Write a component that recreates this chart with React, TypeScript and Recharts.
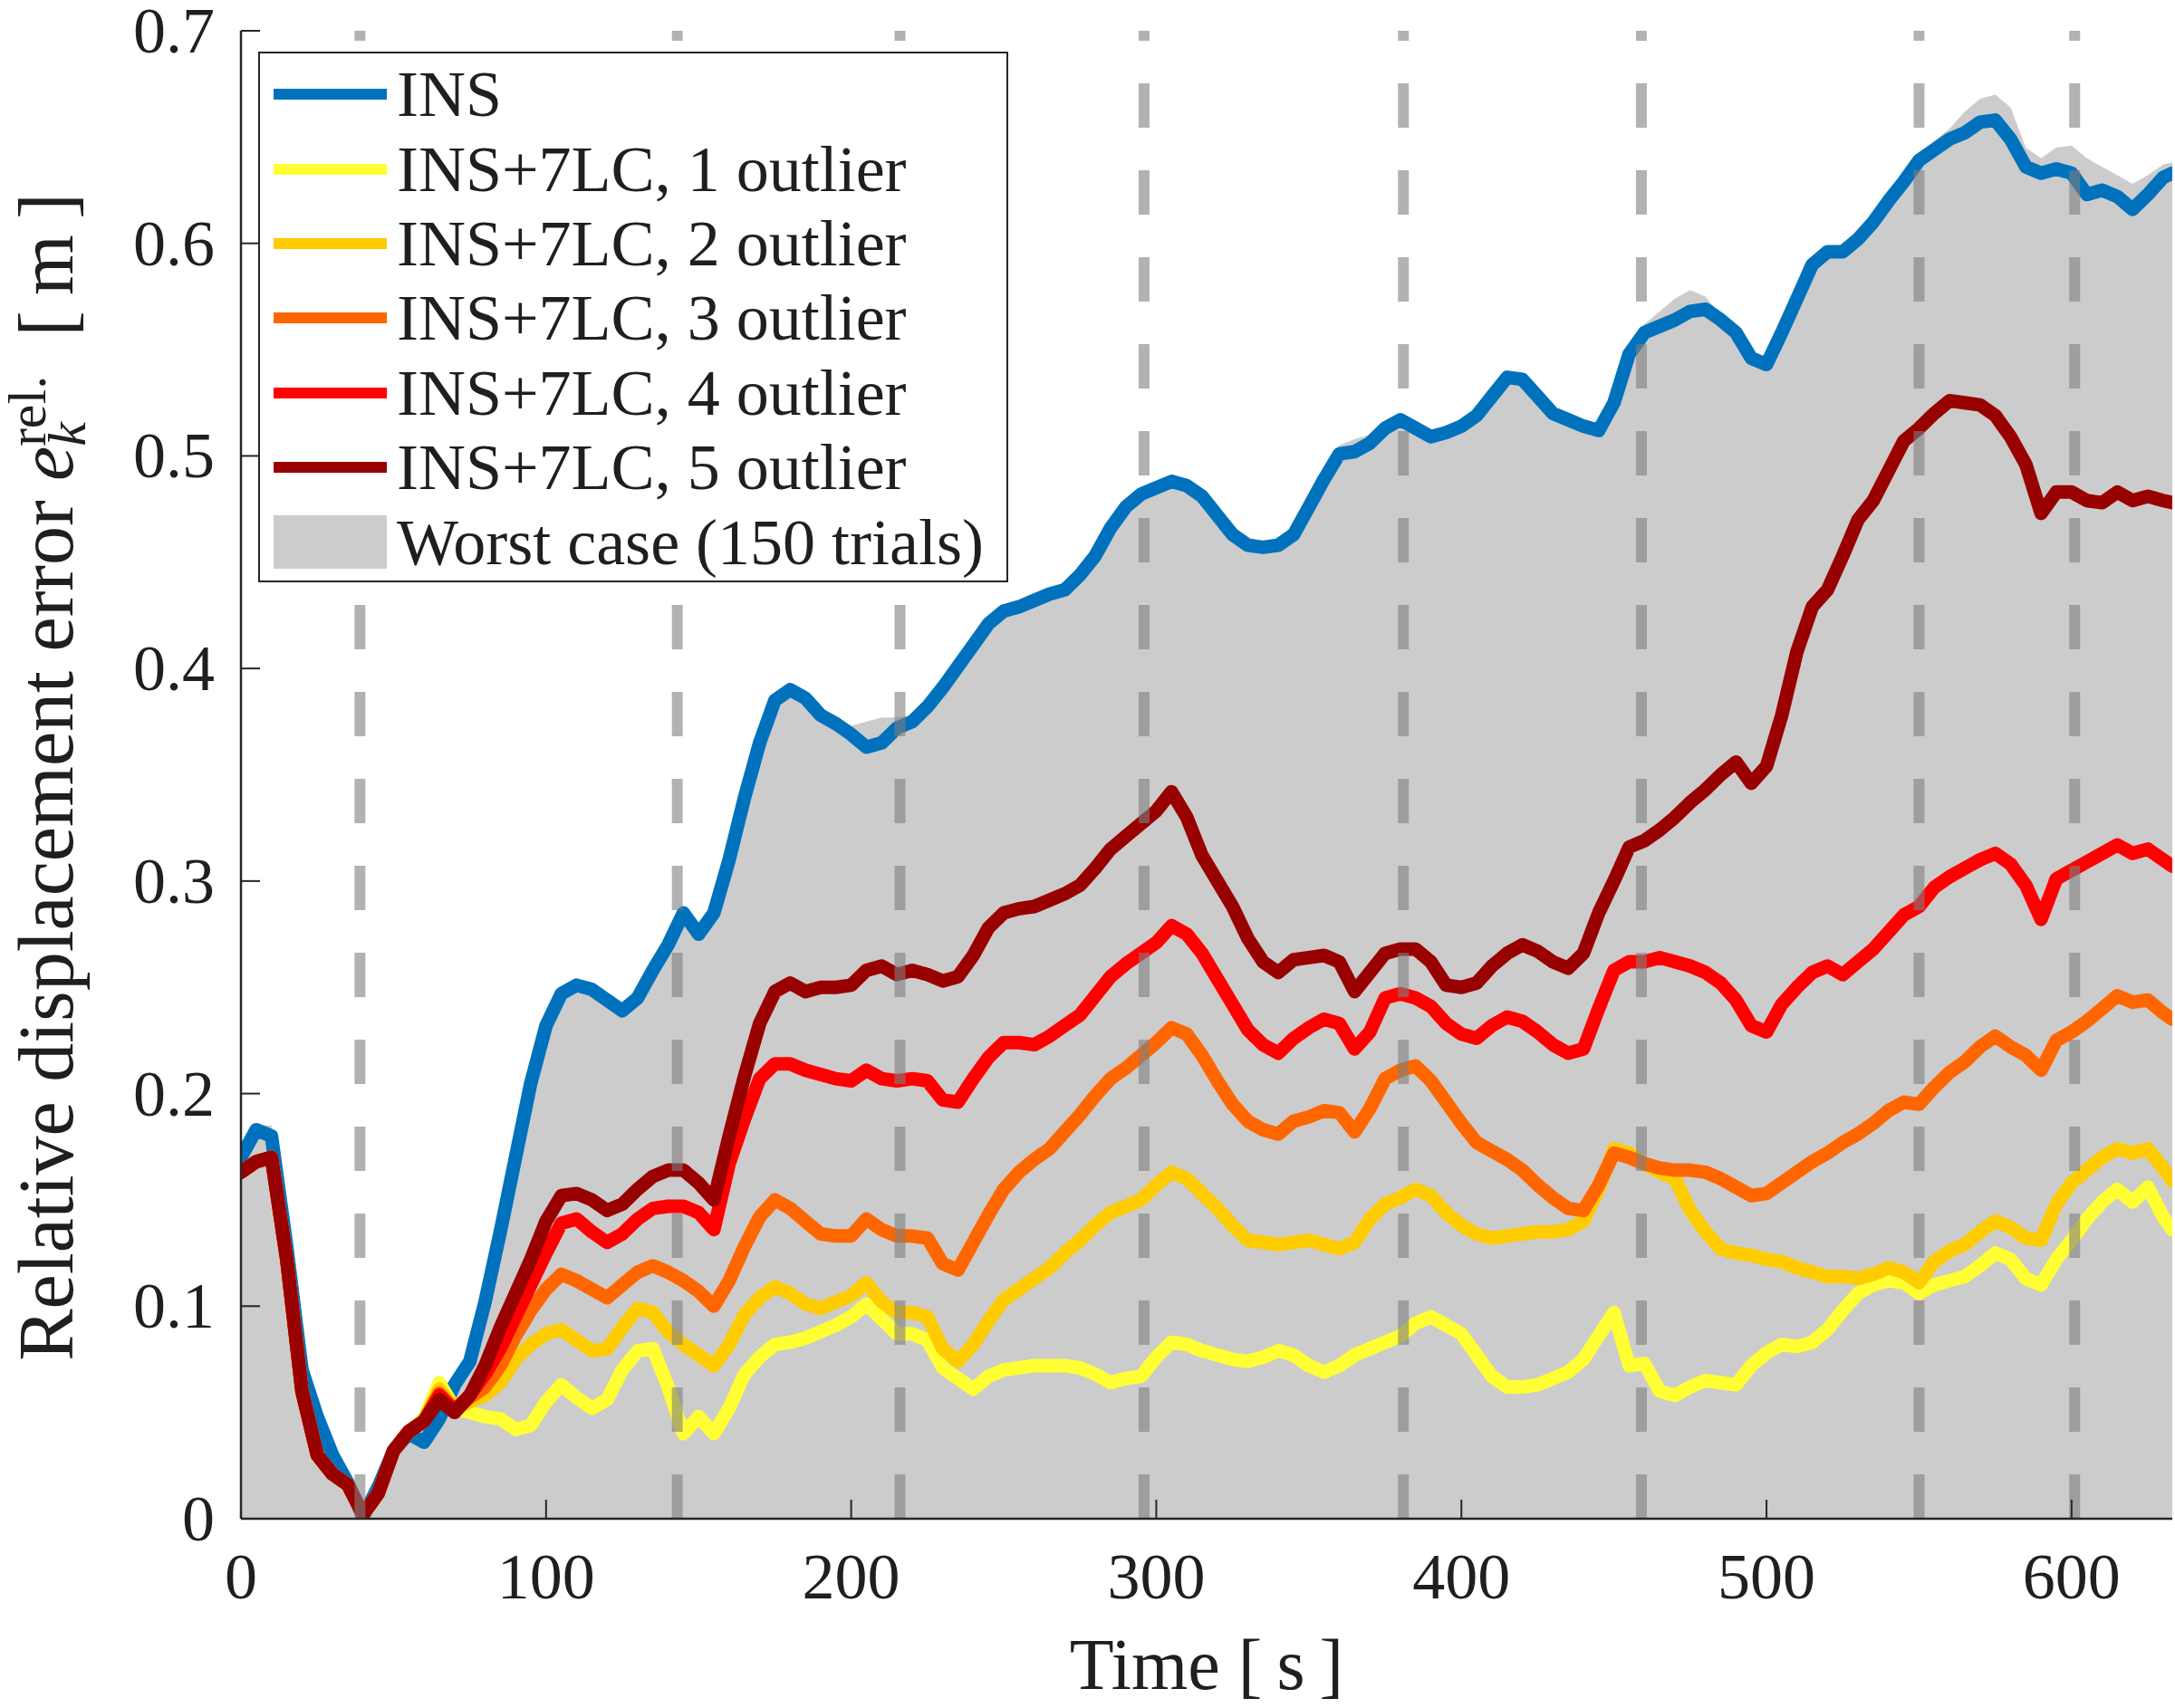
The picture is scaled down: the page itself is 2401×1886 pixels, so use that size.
/**
 * Relative displacement error over time: INS vs INS+7LC with 1..5 outliers,
 * plus the worst case envelope of 150 trials (grey area).
 */

import {
  Area,
  ComposedChart,
  Legend,
  Line,
  ReferenceLine,
  XAxis,
  YAxis,
} from 'recharts';

const FONT = '"Liberation Serif", "DejaVu Serif", serif';
const TEXT = '#1f1f1f';
const AXIS = '#262626';

const W = 2401;
const H = 1886;
const PLOT_LEFT = 266;
const PLOT_TOP = 34;
const PLOT_RIGHT = 2398;
const PLOT_BOTTOM = 1677;

// time grid [s], every 5 s plus the last sample
const TIME = [...Array.from({ length: 127 }, (_, i) => i * 5), 633];

const INS = [
  0.170, 0.183, 0.180, 0.128, 0.070, 0.048, 0.030, 0.017, 0.001, 0.015,
  0.032, 0.040, 0.036, 0.047, 0.063, 0.074, 0.102, 0.135, 0.170, 0.205,
  0.232, 0.247, 0.251, 0.249, 0.244, 0.239, 0.245, 0.258, 0.270, 0.285,
  0.275, 0.285, 0.310, 0.339, 0.365, 0.385, 0.390, 0.386, 0.378, 0.374,
  0.369, 0.363, 0.365, 0.372, 0.375, 0.382, 0.391, 0.401, 0.411, 0.421,
  0.427, 0.429, 0.432, 0.435, 0.437, 0.444, 0.453, 0.466, 0.476, 0.482,
  0.485, 0.488, 0.486, 0.481, 0.472, 0.463, 0.458, 0.457, 0.458, 0.463,
  0.476, 0.489, 0.501, 0.502, 0.506, 0.513, 0.517, 0.513, 0.509, 0.511,
  0.514, 0.519, 0.528, 0.537, 0.536, 0.528, 0.520, 0.517, 0.514, 0.512,
  0.525, 0.548, 0.558, 0.561, 0.564, 0.568, 0.569, 0.564, 0.558, 0.546,
  0.543, 0.558, 0.574, 0.590, 0.596, 0.596, 0.602, 0.610, 0.620, 0.629,
  0.639, 0.644, 0.649, 0.652, 0.657, 0.658, 0.649, 0.636, 0.633, 0.635,
  0.633, 0.623, 0.625, 0.622, 0.616, 0.623, 0.631,
  0.633,
];

const LC1 = [
  0.163, 0.168, 0.170, 0.122, 0.060, 0.030, 0.021, 0.016, 0.002, 0.012,
  0.032, 0.041, 0.047, 0.064, 0.052, 0.050, 0.048, 0.047, 0.042, 0.044,
  0.055, 0.063, 0.057, 0.052, 0.056, 0.070, 0.079, 0.080, 0.062, 0.040,
  0.048, 0.040, 0.052, 0.068, 0.076, 0.082, 0.083, 0.085, 0.088, 0.091,
  0.095, 0.101, 0.094, 0.087, 0.087, 0.084, 0.071, 0.066, 0.061, 0.067,
  0.070, 0.071, 0.072, 0.072, 0.072, 0.071, 0.068, 0.064, 0.066, 0.067,
  0.076, 0.083, 0.082, 0.079, 0.077, 0.075, 0.074, 0.076, 0.079, 0.077,
  0.072, 0.069, 0.072, 0.077, 0.080, 0.083, 0.086, 0.092, 0.095, 0.091,
  0.087, 0.077, 0.067, 0.062, 0.062, 0.063, 0.066, 0.069, 0.075, 0.086,
  0.097, 0.072, 0.073, 0.060, 0.058, 0.062, 0.065, 0.064, 0.063, 0.072,
  0.078, 0.082, 0.081, 0.083, 0.089, 0.098, 0.106, 0.110, 0.112, 0.111,
  0.106, 0.110, 0.112, 0.114, 0.119, 0.125, 0.122, 0.113, 0.110, 0.122,
  0.131, 0.141, 0.149, 0.155, 0.149, 0.156, 0.142,
  0.136,
];

const LC2 = [
  0.163, 0.168, 0.170, 0.122, 0.060, 0.030, 0.021, 0.016, 0.002, 0.012,
  0.032, 0.041, 0.046, 0.061, 0.052, 0.055, 0.058, 0.064, 0.075, 0.082,
  0.087, 0.089, 0.084, 0.079, 0.080, 0.090, 0.099, 0.097, 0.088, 0.082,
  0.077, 0.072, 0.082, 0.096, 0.104, 0.109, 0.106, 0.101, 0.099, 0.102,
  0.105, 0.111, 0.102, 0.097, 0.097, 0.095, 0.080, 0.074, 0.082, 0.093,
  0.103, 0.108, 0.113, 0.118, 0.125, 0.131, 0.138, 0.144, 0.147, 0.150,
  0.157, 0.163, 0.160, 0.153, 0.146, 0.138, 0.131, 0.130, 0.129, 0.130,
  0.131, 0.129, 0.127, 0.130, 0.141, 0.148, 0.151, 0.155, 0.152, 0.144,
  0.138, 0.134, 0.132, 0.133, 0.134, 0.135, 0.135, 0.136, 0.140, 0.155,
  0.174, 0.172, 0.167, 0.163, 0.160, 0.145, 0.135, 0.127, 0.125, 0.124,
  0.122, 0.121, 0.118, 0.116, 0.114, 0.114, 0.113, 0.115, 0.118, 0.116,
  0.111, 0.121, 0.126, 0.129, 0.135, 0.140, 0.137, 0.132, 0.131, 0.148,
  0.158, 0.164, 0.170, 0.174, 0.172, 0.174, 0.165,
  0.159,
];

const LC3 = [
  0.163, 0.168, 0.170, 0.122, 0.060, 0.030, 0.021, 0.016, 0.002, 0.012,
  0.032, 0.041, 0.046, 0.059, 0.051, 0.057, 0.062, 0.072, 0.086, 0.098,
  0.108, 0.115, 0.112, 0.108, 0.104, 0.110, 0.116, 0.119, 0.116, 0.112,
  0.107, 0.100, 0.112, 0.128, 0.142, 0.150, 0.146, 0.140, 0.134, 0.133,
  0.133, 0.141, 0.136, 0.133, 0.133, 0.132, 0.120, 0.117, 0.130, 0.143,
  0.155, 0.163, 0.169, 0.174, 0.182, 0.190, 0.199, 0.207, 0.212, 0.218,
  0.224, 0.231, 0.228, 0.218, 0.206, 0.195, 0.187, 0.183, 0.181, 0.187,
  0.189, 0.192, 0.191, 0.182, 0.193, 0.207, 0.211, 0.213, 0.206, 0.196,
  0.186, 0.177, 0.173, 0.169, 0.164, 0.157, 0.151, 0.146, 0.145, 0.157,
  0.172, 0.170, 0.167, 0.165, 0.164, 0.164, 0.163, 0.160, 0.156, 0.152,
  0.153, 0.158, 0.163, 0.168, 0.172, 0.177, 0.181, 0.186, 0.192, 0.196,
  0.195, 0.203, 0.210, 0.215, 0.222, 0.227, 0.222, 0.218, 0.211, 0.225,
  0.229, 0.234, 0.240, 0.246, 0.243, 0.244, 0.238,
  0.235,
];

const LC4 = [
  0.163, 0.168, 0.170, 0.122, 0.060, 0.030, 0.021, 0.016, 0.002, 0.012,
  0.032, 0.041, 0.046, 0.058, 0.051, 0.058, 0.068, 0.080, 0.095, 0.110,
  0.125, 0.139, 0.141, 0.135, 0.130, 0.134, 0.141, 0.146, 0.147, 0.147,
  0.144, 0.136, 0.167, 0.188, 0.207, 0.214, 0.214, 0.211, 0.209, 0.207,
  0.206, 0.211, 0.207, 0.206, 0.207, 0.206, 0.197, 0.196, 0.207, 0.217,
  0.224, 0.224, 0.223, 0.227, 0.232, 0.237, 0.246, 0.255, 0.261, 0.266,
  0.271, 0.279, 0.275, 0.266, 0.254, 0.242, 0.230, 0.223, 0.219, 0.226,
  0.231, 0.235, 0.233, 0.221, 0.229, 0.245, 0.247, 0.245, 0.241, 0.233,
  0.228, 0.226, 0.232, 0.236, 0.234, 0.229, 0.223, 0.219, 0.221, 0.240,
  0.258, 0.262, 0.262, 0.264, 0.262, 0.260, 0.257, 0.252, 0.244, 0.232,
  0.229, 0.242, 0.250, 0.257, 0.260, 0.256, 0.262, 0.268, 0.276, 0.284,
  0.288, 0.297, 0.302, 0.306, 0.310, 0.313, 0.308, 0.298, 0.282, 0.301,
  0.305, 0.309, 0.313, 0.317, 0.313, 0.315, 0.310,
  0.307,
];

const LC5 = [
  0.163, 0.168, 0.170, 0.122, 0.060, 0.030, 0.021, 0.016, 0.002, 0.012,
  0.032, 0.041, 0.046, 0.056, 0.050, 0.058, 0.072, 0.090, 0.106, 0.122,
  0.140, 0.152, 0.153, 0.150, 0.145, 0.148, 0.155, 0.161, 0.164, 0.164,
  0.158, 0.150, 0.180, 0.208, 0.233, 0.248, 0.252, 0.248, 0.250, 0.250,
  0.251, 0.258, 0.260, 0.256, 0.258, 0.256, 0.253, 0.255, 0.265, 0.278,
  0.285, 0.287, 0.288, 0.291, 0.294, 0.298, 0.306, 0.315, 0.321, 0.327,
  0.333, 0.342, 0.330, 0.312, 0.300, 0.288, 0.273, 0.262, 0.257, 0.263,
  0.264, 0.265, 0.262, 0.248, 0.257, 0.266, 0.268, 0.268, 0.262, 0.251,
  0.250, 0.252, 0.260, 0.266, 0.270, 0.267, 0.262, 0.259, 0.266, 0.285,
  0.300, 0.316, 0.319, 0.324, 0.330, 0.337, 0.343, 0.350, 0.356, 0.346,
  0.354, 0.378, 0.408, 0.429, 0.437, 0.453, 0.470, 0.479, 0.493, 0.507,
  0.513, 0.520, 0.526, 0.525, 0.524, 0.519, 0.509, 0.496, 0.473, 0.483,
  0.483, 0.479, 0.478, 0.483, 0.479, 0.481, 0.479,
  0.478,
];

// upper envelope of the 150 trials
const WORST = [
  0.172, 0.185, 0.185, 0.130, 0.072, 0.050, 0.030, 0.018, 0.002, 0.016,
  0.035, 0.045, 0.050, 0.064, 0.064, 0.075, 0.102, 0.135, 0.170, 0.205,
  0.233, 0.248, 0.252, 0.250, 0.245, 0.240, 0.246, 0.259, 0.271, 0.287,
  0.277, 0.287, 0.311, 0.340, 0.366, 0.386, 0.391, 0.387, 0.380, 0.376,
  0.373, 0.375, 0.377, 0.377, 0.378, 0.383, 0.392, 0.402, 0.412, 0.422,
  0.429, 0.432, 0.434, 0.437, 0.439, 0.446, 0.455, 0.467, 0.477, 0.483,
  0.486, 0.489, 0.487, 0.482, 0.473, 0.464, 0.459, 0.458, 0.459, 0.464,
  0.478, 0.495, 0.505, 0.508, 0.510, 0.516, 0.520, 0.515, 0.511, 0.513,
  0.516, 0.521, 0.530, 0.538, 0.537, 0.529, 0.521, 0.518, 0.515, 0.513,
  0.527, 0.550, 0.562, 0.568, 0.574, 0.578, 0.575, 0.566, 0.559, 0.547,
  0.544, 0.559, 0.575, 0.591, 0.597, 0.597, 0.603, 0.612, 0.622, 0.631,
  0.641, 0.648, 0.654, 0.662, 0.668, 0.670, 0.664, 0.645, 0.640, 0.645,
  0.646, 0.640, 0.636, 0.632, 0.628, 0.632, 0.637,
  0.638,
];

// instants marked by the dashed vertical lines [s]
const EVENTS = [39, 143, 216, 296, 381, 459, 550, 601];

const X_TICKS = [0, 100, 200, 300, 400, 500, 600];
const Y_TICKS = [0, 0.1, 0.2, 0.3, 0.4, 0.5, 0.6, 0.7];

const SERIES = [
  { key: 'ins', label: 'INS', color: '#0072BD' },
  { key: 'lc1', label: 'INS+7LC, 1 outlier', color: '#FFFF33' },
  { key: 'lc2', label: 'INS+7LC, 2 outlier', color: '#FFCC00' },
  { key: 'lc3', label: 'INS+7LC, 3 outlier', color: '#FF6600' },
  { key: 'lc4', label: 'INS+7LC, 4 outlier', color: '#FF0000' },
  { key: 'lc5', label: 'INS+7LC, 5 outlier', color: '#990000' },
];
const AREA = { key: 'worst', label: 'Worst case (150 trials)', color: '#CCCCCC' };

const data = TIME.map((t, i) => ({
  t,
  ins: INS[i],
  lc1: LC1[i],
  lc2: LC2[i],
  lc3: LC3[i],
  lc4: LC4[i],
  lc5: LC5[i],
  worst: WORST[i],
}));

function XTick(props: any) {
  const { x, payload } = props;
  return (
    <g>
      <line x1={x} y1={PLOT_BOTTOM} x2={x} y2={PLOT_BOTTOM - 21} stroke={AXIS} strokeWidth={2} />
      <text x={x} y={PLOT_BOTTOM + 88} textAnchor="middle" fontFamily={FONT} fontSize={72} fill={TEXT}>
        {payload.value}
      </text>
    </g>
  );
}

function YTick(props: any) {
  const { y, payload } = props;
  const v = payload.value as number;
  return (
    <g>
      <line x1={PLOT_LEFT} y1={y} x2={PLOT_LEFT + 21} y2={y} stroke={AXIS} strokeWidth={2} />
      <text x={PLOT_LEFT - 29} y={y + 24} textAnchor="end" fontFamily={FONT} fontSize={72} fill={TEXT}>
        {v === 0 ? '0' : v.toFixed(1)}
      </text>
    </g>
  );
}

function XLabel() {
  return (
    <text
      x={(PLOT_LEFT + PLOT_RIGHT) / 2}
      y={PLOT_BOTTOM + 188}
      textAnchor="middle"
      fontFamily={FONT}
      fontSize={80}
      fill={TEXT}
    >
      {'Time [\u2009s\u2009]'}
    </text>
  );
}

function YLabel() {
  const cx = 80;
  const cy = 858;
  return (
    <text
      transform={`translate(${cx},${cy}) rotate(-90)`}
      textAnchor="middle"
      fontFamily={FONT}
      fontSize={86}
      fill={TEXT}
    >
      {'Relative displacement error '}
      <tspan fontStyle="italic">e</tspan>
      <tspan fontStyle="italic" fontSize={60} dy={14}>k</tspan>
      <tspan fontSize={60} dx={-27} dy={-44}>rel.</tspan>
      <tspan dy={30}>{'\u2002[\u2009m\u2009]'}</tspan>
    </text>
  );
}

function LegendBox() {
  const rows = [...SERIES.map((s) => ({ ...s, patch: false })), { ...AREA, patch: true }];
  return (
    <div
      style={{
        width: 828,
        height: 586,
        boxSizing: 'border-box',
        border: `2px solid ${AXIS}`,
        background: '#fff',
        paddingTop: 4,
        fontFamily: FONT,
        fontSize: 72,
        color: TEXT,
      }}
    >
      {rows.map((r) => (
        <div key={r.key} style={{ height: 82.4, display: 'flex', alignItems: 'center' }}>
          <div
            style={{
              marginLeft: 15,
              width: 125,
              height: r.patch ? 59 : 12,
              background: r.color,
              flex: 'none',
            }}
          />
          <span style={{ marginLeft: 11, lineHeight: 1, whiteSpace: 'nowrap' }}>{r.label}</span>
        </div>
      ))}
    </div>
  );
}

export default function App() {
  return (
    <div style={{ position: 'absolute', left: 0, top: 0, width: W, height: H, background: '#fff' }}>
      <ComposedChart
        width={W}
        height={H}
        data={data}
        margin={{ top: PLOT_TOP, right: W - PLOT_RIGHT, bottom: H - PLOT_BOTTOM - 150, left: PLOT_LEFT - 200 }}
      >
        <XAxis
          dataKey="t"
          type="number"
          domain={[0, 633]}
          ticks={X_TICKS}
          interval={0}
          allowDataOverflow
          height={150}
          tickSize={0}
          tickMargin={0}
          tickLine={false}
          axisLine={{ stroke: AXIS, strokeWidth: 2.5 }}
          tick={(p: any) => <XTick {...p} />}
          label={<XLabel />}
        />
        <YAxis
          type="number"
          domain={[0, 0.7]}
          ticks={Y_TICKS}
          interval={0}
          allowDataOverflow
          width={200}
          tickSize={0}
          tickMargin={0}
          tickLine={false}
          axisLine={{ stroke: AXIS, strokeWidth: 2.5 }}
          tick={(p: any) => <YTick {...p} />}
          label={<YLabel />}
        />
        <Area
          type="linear"
          dataKey={AREA.key}
          fill={AREA.color}
          fillOpacity={1}
          stroke="none"
          baseValue={0}
          dot={false}
          activeDot={false}
          isAnimationActive={false}
        />
        {SERIES.map((s) => (
          <Line
            key={s.key}
            type="linear"
            dataKey={s.key}
            stroke={s.color}
            strokeWidth={15}
            strokeLinejoin="round"
            strokeLinecap="round"
            dot={false}
            activeDot={false}
            isAnimationActive={false}
          />
        ))}
        {EVENTS.map((x) => (
          <ReferenceLine
            key={x}
            segment={[
              { x, y: 0 },
              { x, y: 0.7 },
            ]}
            stroke="#7f7f7f"
            strokeOpacity={0.6}
            strokeWidth={12}
            strokeDasharray="49 47"
            ifOverflow="visible"
          />
        ))}
        <Legend
          layout="vertical"
          align="center"
          verticalAlign="middle"
          content={() => <LegendBox />}
          wrapperStyle={{ position: 'absolute', left: 285, top: 57, width: 828, height: 586 }}
        />
      </ComposedChart>
    </div>
  );
}
